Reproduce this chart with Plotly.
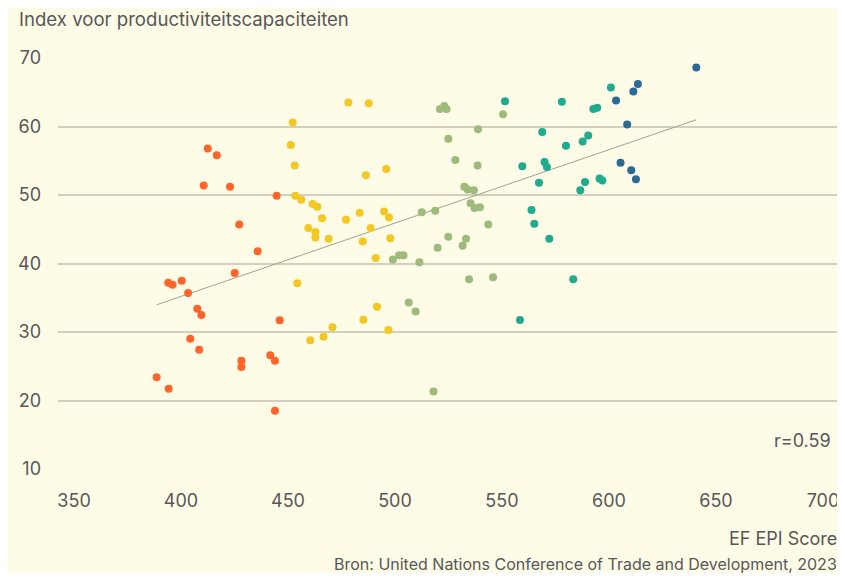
import numpy as np
import plotly.graph_objects as go

# EF EPI score (x) vs productiviteitscapaciteiten index (y), grouped by score band
orange_x = [388.6, 394.2, 394.0, 396.0, 400.3, 403.3, 407.6, 409.5, 404.3, 408.5, 425.1, 435.8,
            428.2, 428.2, 441.7, 443.9, 446.1, 443.9, 412.5, 416.7, 410.6, 422.9, 444.7, 427.2]
orange_y = [23.4, 21.7, 37.2, 36.9, 37.5, 35.7, 33.4, 32.5, 29.0, 27.4, 38.6, 41.8,
            25.8, 24.9, 26.6, 25.8, 31.7, 18.5, 56.8, 55.8, 51.4, 51.2, 49.9, 45.7]

yellow_x = [454.3, 460.4, 466.6, 470.8, 452.2, 451.3, 453.1, 453.4, 456.2, 461.5, 463.7, 465.9,
            459.5, 462.8, 462.8, 469.0, 478.2, 487.7, 486.4, 495.9, 477.1, 483.5, 494.9, 497.2,
            488.6, 484.9, 497.8, 491.0, 491.6, 485.2, 496.9]
yellow_y = [37.1, 28.8, 29.3, 30.7, 60.6, 57.3, 54.3, 49.9, 49.3, 48.7, 48.3, 46.6,
            45.2, 44.6, 43.8, 43.6, 63.5, 63.4, 52.9, 53.8, 46.4, 47.4, 47.6, 46.7,
            45.2, 43.2, 43.7, 40.8, 33.7, 31.8, 30.3]

green_x = [521.0, 523.0, 524.1, 524.9, 538.8, 550.5, 528.2, 538.6, 532.4, 534.0, 536.9, 535.3,
           537.2, 539.7, 543.6, 512.5, 518.8, 524.9, 533.2, 499.0, 501.9, 504.0, 511.4, 519.9,
           531.6, 534.6, 545.8, 506.4, 509.6, 518.0]
green_y = [62.55, 63.0, 62.55, 58.2, 59.6, 61.8, 55.1, 54.3, 51.2, 50.8, 50.7, 48.8,
           48.1, 48.2, 45.7, 47.5, 47.7, 43.9, 43.6, 40.6, 41.2, 41.2, 40.2, 42.3,
           42.6, 37.7, 38.0, 34.3, 33.0, 21.3]

teal_x = [551.4, 558.4, 583.3, 572.1, 578.0, 600.9, 592.7, 594.5, 568.8, 590.3, 587.7, 579.9,
          559.5, 569.9, 571.0, 567.3, 595.6, 596.9, 588.8, 586.6, 563.8, 565.1]
teal_y = [63.7, 31.75, 37.7, 43.6, 63.6, 65.7, 62.55, 62.75, 59.2, 58.7, 57.8, 57.2,
          54.2, 54.8, 54.1, 51.8, 52.4, 52.1, 51.9, 50.7, 47.8, 45.8]

blue_x = [640.8, 613.5, 611.4, 603.3, 608.5, 605.4, 610.4, 612.6]
blue_y = [68.6, 66.2, 65.1, 63.8, 60.3, 54.7, 53.6, 52.3]

x_ticks = [350, 400, 450, 500, 550, 600, 650, 700]
y_ticks = [10, 20, 30, 40, 50, 60, 70]

groups = [
    (orange_x, orange_y, "#FF642B"),
    (yellow_x, yellow_y, "#F4C823"),
    (green_x, green_y, "#9DBB7B"),
    (teal_x, teal_y, "#1FAB8F"),
    (blue_x, blue_y, "#2B6A96"),
]

TEXT = "#58575A"
FONT = "Inter"

fig = go.Figure()

# regression line over all points
all_x = np.array(orange_x + yellow_x + green_x + teal_x + blue_x)
all_y = np.array(orange_y + yellow_y + green_y + teal_y + blue_y)
slope, intercept = np.polyfit(all_x, all_y, 1)
line_x = np.array([all_x.min(), all_x.max()])
fig.add_trace(go.Scatter(
    x=line_x, y=slope * line_x + intercept, mode="lines",
    line={"color": "#A3A195", "width": 1}, hoverinfo="skip",
))

for xs, ys, color in groups:
    fig.add_trace(go.Scatter(
        x=xs, y=ys, mode="markers",
        marker={"color": color, "size": 8, "line": {"width": 0}},
    ))

# page body has an 8px margin, so the figure is sized to sit inside it
fig.update_layout(
    width=837,
    height=565,
    margin={"l": 50, "r": 6, "t": 50, "b": 104},
    paper_bgcolor="#FEFBE6",
    plot_bgcolor="#FEFBE6",
    showlegend=False,
    font={"family": FONT, "color": TEXT, "size": 18},
    xaxis={
        "range": [342.5, 707.5],
        "tickvals": x_ticks,
        "showgrid": False,
        "zeroline": False,
        "showline": False,
        "ticks": "",
        "ticklabelstandoff": 19,
        "tickfont": {"size": 18, "color": TEXT},
    },
    yaxis={
        "range": [10, 70],
        "tickvals": y_ticks,
        "showgrid": True,
        "gridcolor": "#D3CFBF",
        "gridwidth": 1.5,
        "zeroline": False,
        "showline": False,
        "ticks": "",
        "ticklabelstandoff": 16,
        "tickfont": {"size": 18, "color": TEXT},
    },
    annotations=[
        {"text": "Index voor productiviteitscapaciteiten", "xref": "paper", "yref": "paper",
         "x": -41 / 781, "y": 1 + 39 / 411, "xanchor": "left", "yanchor": "middle",
         "showarrow": False, "font": {"size": 18.6, "color": TEXT}},
        {"text": "r=0.59", "xref": "paper", "yref": "paper",
         "x": 0.992, "y": 29 / 411, "xanchor": "right", "yanchor": "middle",
         "showarrow": False, "font": {"size": 18, "color": TEXT}},
        {"text": "EF EPI Score", "xref": "paper", "yref": "paper",
         "x": 1, "y": -69 / 411, "xanchor": "right", "yanchor": "middle",
         "showarrow": False, "font": {"size": 18, "color": TEXT}},
        {"text": "Bron: United Nations Conference of Trade and Development, 2023",
         "xref": "paper", "yref": "paper",
         "x": 1, "y": -95 / 411, "xanchor": "right", "yanchor": "middle",
         "showarrow": False, "font": {"size": 16, "color": TEXT}},
    ],
)

fig.write_html("out.html")
